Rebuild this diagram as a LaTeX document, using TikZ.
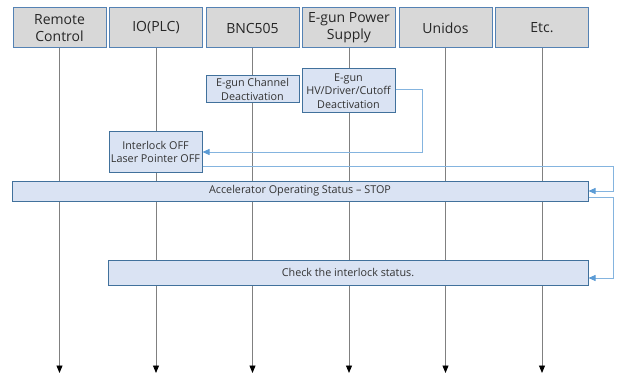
\documentclass[tikz,border=0pt]{standalone}
\usepackage{fontspec}
\setmainfont{Open Sans}
\usetikzlibrary{arrows.meta}
\usetikzlibrary{positioning}
\definecolor{hdrfill}{RGB}{216,216,216}
\definecolor{hdrline}{RGB}{84,130,180}
\definecolor{actfill}{RGB}{218,227,243}
\definecolor{actline}{RGB}{65,113,156}
\definecolor{msgline}{RGB}{91,155,213}
\tikzset{
    actor/.style={
           rectangle,
           draw=hdrline, fill=hdrfill, line width=1pt,
           minimum width=93pt, minimum height=40pt,
           inner sep=1pt,
           align=center,
           font=\fontsize{14}{17}\selectfont,
           text=black!85,
           },
    act/.style={
           rectangle,
           draw=actline, fill=actfill, line width=1pt,
           inner sep=0.5pt,
           align=center,
           font=\fontsize{10.8}{13.5}\selectfont,
           text=black!80,
           },
    lifeline/.style={draw=black!50, line width=0.9pt,
           -{Triangle[width=6pt,length=7.5pt,color=black]}},
    msg/.style={draw=msgline!75, line width=0.8pt,
           -{Triangle[width=6pt,length=7pt,color=msgline]}},
}

\begin{document}
\begin{tikzpicture}[x=1pt,y=-1pt,node distance=2.5pt]
  \useasboundingbox (0,0) rectangle (617,374);

  % participants along the top
  \node[actor] (rc)  at (59.5,28)  {Remote\\Control};
  \node[actor] (plc) [right=of rc]  {IO(PLC)};
  \node[actor] (bnc) [right=of plc] {BNC505};
  \node[actor] (psu) [right=of bnc] {E-gun Power\\Supply};
  \node[actor] (uni) [right=of psu] {Unidos};
  \node[actor] (etc) [right=of uni] {Etc.};

  \coordinate (bottom) at (0,373);
  \coordinate (rt) at (613,0);

  \foreach \n in {rc,plc,bnc,psu,uni,etc}
    \draw[lifeline] (\n.south) -- (\n.south |- bottom);

  % actions
  \node[act, minimum width=93pt, minimum height=27pt] (chan) at (252.5,89.5)
       {E-gun Channel\\Deactivation};
  \node[act, minimum width=93pt, minimum height=44pt] (hv) at (348.5,91)
       {E-gun\\HV/Driver/Cutoff\\Deactivation};
  \node[act, minimum width=93pt, minimum height=40pt] (intlk) at (155.5,152)
       {Interlock OFF\\Laser Pointer OFF};
  \node[act, minimum width=576pt, minimum height=20pt] (stop) at (300,191)
       {Accelerator Operating Status -- STOP};
  \node[act, minimum width=480pt, minimum height=25pt] (check) at (348,272.5)
       {Check the interlock status.};
  \coordinate (chkin) at ([yshift=-5.5pt]check.east);

  % messages
  \draw[msg] ([yshift=2pt]hv.east) -- ++(27,0) |- (intlk.east);
  \draw[msg] ([yshift=-14pt]intlk.east) -| (rt |- stop.east) -- (stop.east);
  \draw[msg] ([yshift=-6pt]stop.east) -| (chkin -| rt) -- (chkin);
\end{tikzpicture}
\end{document}
